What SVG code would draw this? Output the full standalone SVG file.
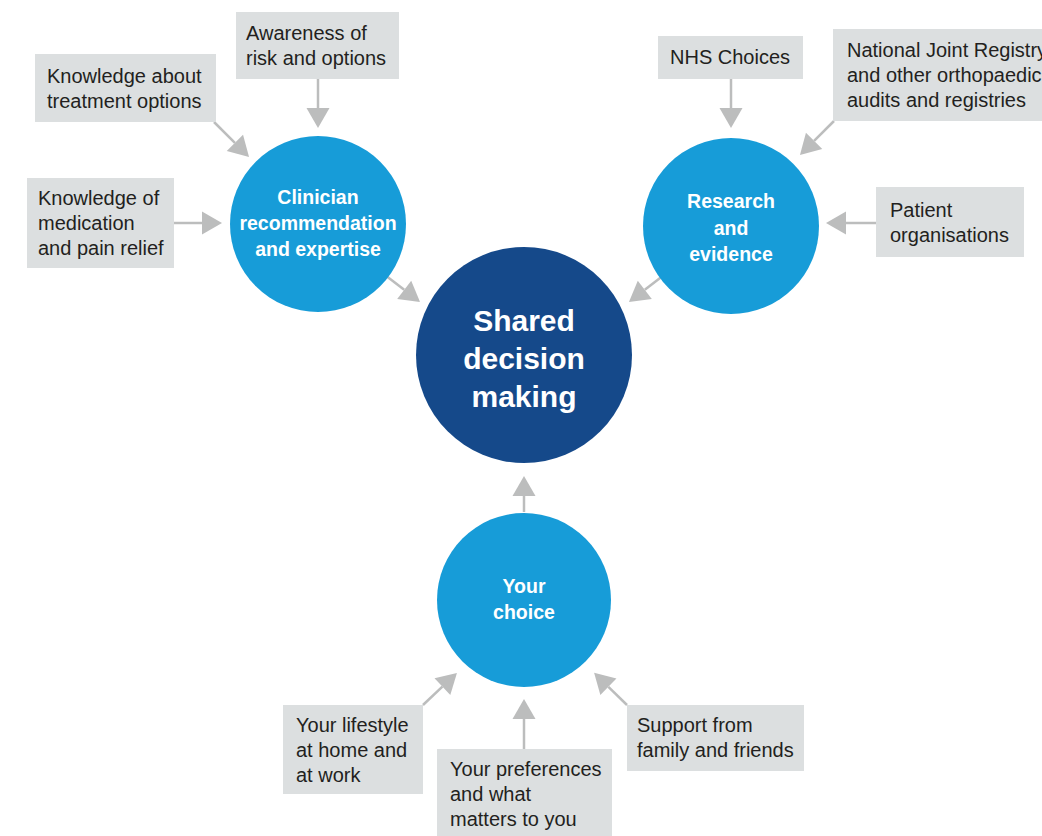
<svg xmlns="http://www.w3.org/2000/svg" width="1042" height="836" viewBox="0 0 1042 836">
<style>
.box{fill:#dcdfe0}
.bt{font-family:"Liberation Sans",Arial,sans-serif;font-size:20px;fill:#231f20}
.c{fill:#179cd8}
.ct{font-family:"Liberation Sans",Arial,sans-serif;font-size:19.5px;font-weight:bold;fill:#ffffff;text-anchor:middle}
.mt{font-family:"Liberation Sans",Arial,sans-serif;font-size:30px;font-weight:bold;fill:#ffffff;text-anchor:middle}
.ln{stroke:#bcbdbd;stroke-width:2.5;fill:none;marker-end:url(#ah)}
</style>
<defs>
<marker id="ah" markerUnits="userSpaceOnUse" markerWidth="22" markerHeight="24" refX="0" refY="11.5" orient="auto" overflow="visible">
<path d="M0,0 L20,11.5 L0,23 z" fill="#bcbdbd"/>
</marker>
</defs>
<rect width="1042" height="836" fill="#ffffff"/>
<g id="connectors">
<line class="ln" x1="318" y1="79" x2="318" y2="108"/>
<line class="ln" x1="214" y1="122" x2="234.9" y2="142.9"/>
<line class="ln" x1="174" y1="223" x2="202" y2="223"/>
<line class="ln" x1="385" y1="275" x2="404.2" y2="289.8"/>
<line class="ln" x1="664" y1="275" x2="644.8" y2="289.8"/>
<line class="ln" x1="731" y1="79" x2="731" y2="108"/>
<line class="ln" x1="834" y1="121" x2="814.1" y2="140.9"/>
<line class="ln" x1="876" y1="223" x2="846" y2="223"/>
<line class="ln" x1="524" y1="512" x2="524" y2="496"/>
<line class="ln" x1="423" y1="705" x2="442.4" y2="686.7"/>
<line class="ln" x1="524" y1="749" x2="524" y2="719"/>
<line class="ln" x1="627" y1="705" x2="608.4" y2="686.8"/>
</g>
<g id="shared">
<circle cx="524" cy="355" r="108" fill="#15498a"/>
<text class="mt" x="524" y="331">Shared</text>
<text class="mt" x="524" y="369">decision</text>
<text class="mt" x="524" y="407">making</text>
</g>
<g id="clinician">
<circle class="c" cx="318" cy="224" r="88"/>
<text class="ct" x="318" y="204">Clinician</text>
<text class="ct" x="318" y="230">recommendation</text>
<text class="ct" x="318" y="256">and expertise</text>
</g>
<g id="research">
<circle class="c" cx="731" cy="226" r="88"/>
<text class="ct" x="731" y="208">Research</text>
<text class="ct" x="731" y="235">and</text>
<text class="ct" x="731" y="261">evidence</text>
</g>
<g id="yourchoice">
<circle class="c" cx="524" cy="600" r="87"/>
<text class="ct" x="524" y="593">Your</text>
<text class="ct" x="524" y="619">choice</text>
</g>
<g id="awareness">
<rect class="box" x="236" y="12" width="163" height="67"/>
<text class="bt" x="246" y="40">Awareness of</text>
<text class="bt" x="246" y="65">risk and options</text>
</g>
<g id="knowledge-treatment">
<rect class="box" x="35" y="54" width="181" height="68"/>
<text class="bt" x="47" y="83">Knowledge about</text>
<text class="bt" x="47" y="108">treatment options</text>
</g>
<g id="knowledge-medication">
<rect class="box" x="27" y="178" width="147" height="90"/>
<text class="bt" x="38" y="205">Knowledge of</text>
<text class="bt" x="38" y="230">medication</text>
<text class="bt" x="38" y="255">and pain relief</text>
</g>
<g id="nhs">
<rect class="box" x="658" y="36" width="145" height="43"/>
<text class="bt" x="670" y="64">NHS Choices</text>
</g>
<g id="njr">
<rect class="box" x="833" y="29" width="215" height="92"/>
<text class="bt" x="847" y="57">National Joint Registry</text>
<text class="bt" x="847" y="82">and other orthopaedic</text>
<text class="bt" x="847" y="107">audits and registries</text>
</g>
<g id="patient">
<rect class="box" x="876" y="187" width="148" height="70"/>
<text class="bt" x="890" y="217">Patient</text>
<text class="bt" x="890" y="242">organisations</text>
</g>
<g id="lifestyle">
<rect class="box" x="283" y="705" width="140" height="89"/>
<text class="bt" x="296" y="732">Your lifestyle</text>
<text class="bt" x="296" y="757">at home and</text>
<text class="bt" x="296" y="782">at work</text>
</g>
<g id="preferences">
<rect class="box" x="437" y="749" width="175" height="90"/>
<text class="bt" x="450" y="776">Your preferences</text>
<text class="bt" x="450" y="801">and what</text>
<text class="bt" x="450" y="826">matters to you</text>
</g>
<g id="support">
<rect class="box" x="627" y="705" width="177" height="66"/>
<text class="bt" x="637" y="732">Support from</text>
<text class="bt" x="637" y="757">family and friends</text>
</g>
</svg>
